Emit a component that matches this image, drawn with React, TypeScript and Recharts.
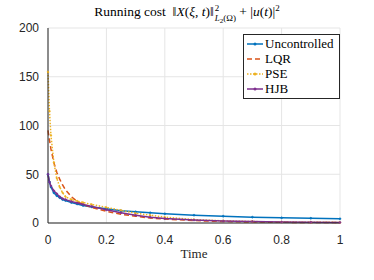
import React from 'react';
import { LineChart, Line, XAxis, YAxis, CartesianGrid } from 'recharts';

// sample times (s)
const time = [0, 0.005, 0.01, 0.02, 0.03, 0.04, 0.05, 0.06, 0.08, 0.1, 0.12, 0.15, 0.2, 0.25, 0.3, 0.35, 0.4, 0.5, 0.6, 0.7, 0.8, 0.9, 1.0];

const uncontrolled = [50, 42, 37, 31, 28, 26, 24, 23, 21, 19.5, 18, 16.5, 14.5, 12.5, 11.5, 10.5, 9.5, 8, 7, 6, 5.3, 4.8, 4.3];
const lqr = [95, 85, 76, 62, 52, 45, 39, 34, 27, 22, 19, 16, 12, 9, 7, 5, 4, 2.5, 1.5, 1, 0.7, 0.5, 0.4];
const pse = [155, 115, 90, 62, 46, 37, 31, 27, 24, 22.5, 21, 19, 16, 13, 10, 8, 6, 3.5, 2.2, 1.5, 1, 0.8, 0.6];
const hjb = [50, 42, 38, 33, 30, 27, 25, 24, 22, 20.5, 19, 17, 13.5, 10.5, 8, 6, 4.5, 3, 2, 1.5, 1, 0.8, 0.6];

const xTicks = [0, 0.2, 0.4, 0.6, 0.8, 1];
const yTicks = [0, 50, 100, 150, 200];

const SERIES = [
  { key: 'uncontrolled', name: 'Uncontrolled', color: '#0072BD', dash: undefined, dot: true },
  { key: 'lqr', name: 'LQR', color: '#D95319', dash: '5 3', dot: false },
  { key: 'pse', name: 'PSE', color: '#EDB120', dash: '1.5 1.5', dot: true },
  { key: 'hjb', name: 'HJB', color: '#7E2F8E', dash: undefined, dot: true },
];

const data = time.map((t, i) => ({
  t,
  uncontrolled: uncontrolled[i],
  lqr: lqr[i],
  pse: pse[i],
  hjb: hjb[i],
}));

const serif = '"Liberation Serif", "DejaVu Serif", serif';
const sans = '"Liberation Sans", Arial, sans-serif';

const LegendBox = () => (
  <div
    style={{
      position: 'absolute',
      left: 243,
      top: 34,
      border: '1px solid #262626',
      background: '#fff',
      padding: '1px 5px 2px 2px',
      fontFamily: serif,
      fontSize: 13,
      lineHeight: '15px',
      color: '#000',
    }}
  >
    {SERIES.map((s) => (
      <div key={s.key} style={{ display: 'flex', alignItems: 'center' }}>
        <svg width={18} height={10} style={{ marginRight: 1 }}>
          <line x1={1} y1={5} x2={17} y2={5} stroke={s.color} strokeWidth={1.5} strokeDasharray={s.dash} />
          {s.dot && <circle cx={9} cy={5} r={1.5} fill={s.color} />}
        </svg>
        <span>{s.name}</span>
      </div>
    ))}
  </div>
);

export default function App() {
  return (
    <div style={{ position: 'absolute', left: 0, top: 0, width: 374, height: 280, background: '#fff' }}>
      <div
        style={{
          position: 'absolute',
          top: 3,
          left: 0,
          width: 374,
          textAlign: 'center',
          fontFamily: serif,
          fontSize: 13.5,
          lineHeight: '16px',
          color: '#000',
          whiteSpace: 'nowrap',
        }}
      >
        Running cost&nbsp; ‖<i>X</i>(<i>ξ</i>, <i>t</i>)‖
        <span
          style={{
            display: 'inline-flex',
            flexDirection: 'column',
            alignItems: 'flex-start',
            verticalAlign: '5px',
            fontSize: 9,
            lineHeight: '10px',
            marginLeft: 1,
          }}
        >
          <span>2</span>
          <span>
            <i>L</i>
            <span style={{ fontSize: 7, position: 'relative', top: 2 }}>2</span>(Ω)
          </span>
        </span>
        {' '}+ |<i>u</i>(<i>t</i>)|
        <span style={{ fontSize: 9, position: 'relative', top: -5 }}>2</span>
      </div>
      <LineChart width={374} height={280} data={data} margin={{ top: 28, right: 34, left: 0, bottom: 27 }}>
        <CartesianGrid stroke="#e5e5e5" />
        <XAxis
          dataKey="t"
          type="number"
          domain={[0, 1]}
          ticks={xTicks}
          tickLine={false}
          axisLine={{ stroke: '#262626' }}
          tick={{ fontFamily: sans, fontSize: 12, fill: '#262626' }}
          tickMargin={6}
          height={30}
          label={{ value: 'Time', position: 'insideBottom', offset: -5, fontFamily: serif, fontSize: 13, fill: '#262626' }}
        />
        <YAxis
          type="number"
          domain={[0, 200]}
          ticks={yTicks}
          tickLine={false}
          axisLine={{ stroke: '#262626' }}
          tick={{ fontFamily: sans, fontSize: 12, fill: '#262626' }}
          tickMargin={3}
          width={48}
        />
        {SERIES.map((s) => (
          <Line
            key={s.key}
            type="linear"
            dataKey={s.key}
            name={s.name}
            stroke={s.color}
            strokeWidth={1.5}
            strokeDasharray={s.dash}
            dot={s.dot ? { r: 1, fill: s.color, stroke: s.color, strokeWidth: 0.5 } : false}
            isAnimationActive={false}
          />
        ))}
      </LineChart>
      <LegendBox />
    </div>
  );
}
